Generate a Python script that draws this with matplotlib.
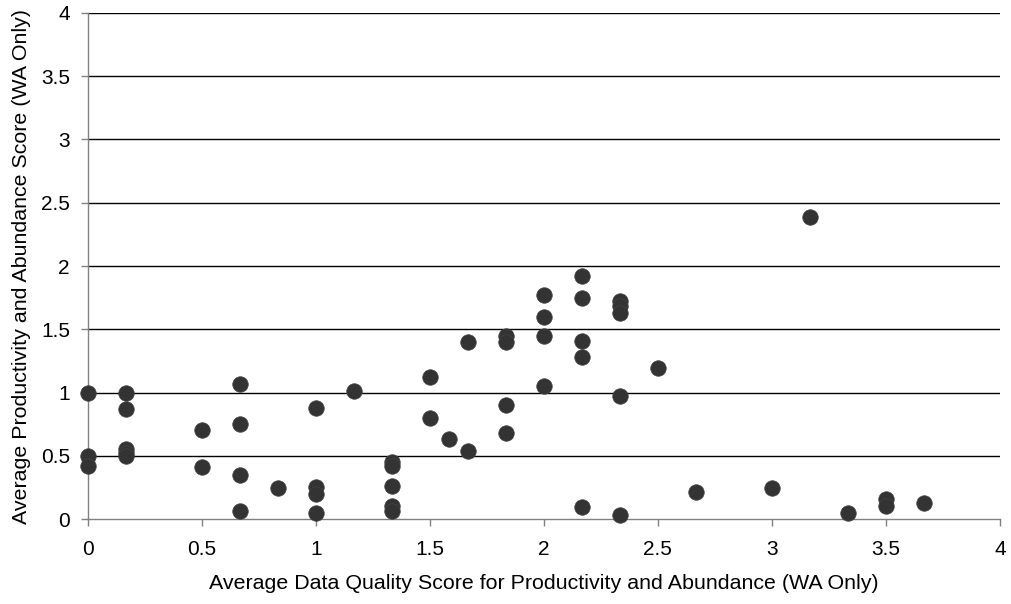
import matplotlib
matplotlib.use("Agg")
import matplotlib.pyplot as plt

plt.rcParams['font.family'] = ['Liberation Sans', 'DejaVu Sans']

# Average data quality score (x) and productivity/abundance score (y), WA only
quality = [0.0, 0.0, 0.0,
           0.167, 0.167, 0.167, 0.167, 0.167,
           0.5, 0.5,
           0.667, 0.667, 0.667, 0.667,
           0.833,
           1.0, 1.0, 1.0, 1.0,
           1.167,
           1.333, 1.333, 1.333, 1.333, 1.333,
           1.5, 1.5,
           1.583,
           1.667, 1.667,
           1.833, 1.833, 1.833, 1.833,
           2.0, 2.0, 2.0, 2.0,
           2.167, 2.167, 2.167, 2.167, 2.167,
           2.333, 2.333, 2.333, 2.333, 2.333,
           2.5,
           2.667,
           3.0,
           3.167,
           3.333,
           3.5, 3.5,
           3.667]
productivity = [1.0, 0.5, 0.42,
                1.0, 0.87, 0.55, 0.52, 0.5,
                0.70, 0.41,
                1.07, 0.75, 0.35, 0.065,
                0.245,
                0.88, 0.25, 0.20, 0.05,
                1.01,
                0.45, 0.42, 0.26, 0.10, 0.06,
                1.12, 0.80,
                0.63,
                1.40, 0.535,
                1.45, 1.40, 0.90, 0.68,
                1.77, 1.60, 1.45, 1.05,
                1.92, 1.75, 1.41, 1.28, 0.095,
                1.72, 1.68, 1.63, 0.97, 0.03,
                1.19,
                0.215,
                0.245,
                2.39,
                0.05,
                0.155, 0.10,
                0.13]

x_ticks = [0, 0.5, 1, 1.5, 2, 2.5, 3, 3.5, 4]
y_ticks = [0, 0.5, 1, 1.5, 2, 2.5, 3, 3.5, 4]
x_tick_labels = ['0', '0.5', '1', '1.5', '2', '2.5', '3', '3.5', '4']
y_tick_labels = ['0', '0.5', '1', '1.5', '2', '2.5', '3', '3.5', '4']

fig = plt.figure(figsize=(10.11, 6.04), dpi=100)
ax = fig.add_axes([0.087, 0.1407, 0.902, 0.8378])

ax.set_xlim(0, 4)
ax.set_ylim(0, 4)

# horizontal gridlines
for yv in y_ticks[1:]:
    ax.axhline(yv, color='black', linewidth=1.0, zorder=1)

ax.scatter(quality, productivity, s=125, color='#333333', edgecolors='#444444',
           linewidths=0.5, zorder=3, clip_on=False)

ax.set_xticks(x_ticks)
ax.set_xticklabels(x_tick_labels)
ax.set_yticks(y_ticks)
ax.set_yticklabels(y_tick_labels)
ax.tick_params(axis='both', direction='out', length=5, width=1, color='#808080',
               labelsize=15, labelcolor='black')
ax.tick_params(axis='x', pad=10)
ax.tick_params(axis='y', pad=8)

for side in ['top', 'right']:
    ax.spines[side].set_visible(False)
for side in ['left', 'bottom']:
    ax.spines[side].set_color('#808080')
    ax.spines[side].set_linewidth(1.0)

ax.set_xlabel('Average Data Quality Score for Productivity and Abundance (WA Only)',
              fontsize=15.4, labelpad=11)
ax.set_ylabel('Average Productivity and Abundance Score (WA Only)',
              fontsize=15.4, labelpad=7)

fig.savefig('out.png', dpi=100)
